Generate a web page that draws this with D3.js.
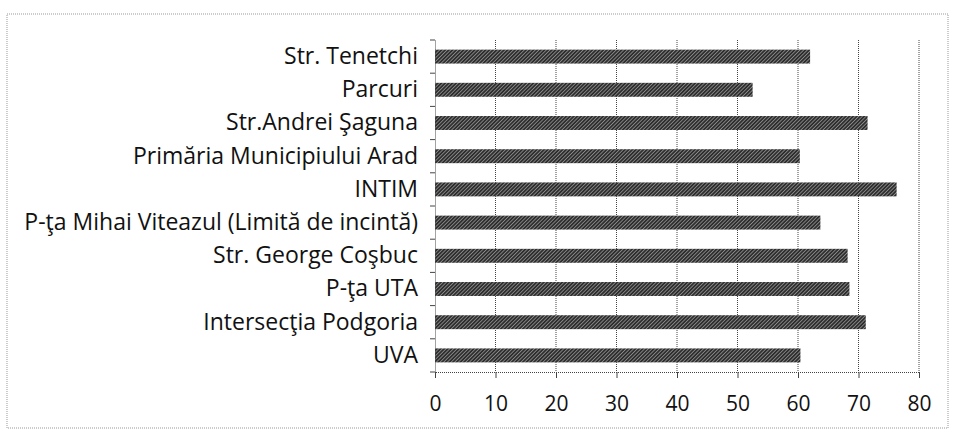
<!DOCTYPE html>
<html>
<head>
<meta charset="utf-8">
<script src="https://cdn.jsdelivr.net/npm/d3@7"></script>
<style>
  body { margin: 0; background: #fff; }
  svg { display: block; }
</style>
</head>
<body>
<svg id="chart" width="955" height="434"></svg>
<script>
const categories = [
  'Str. Tenetchi',
  'Parcuri ',
  'Str.Andrei Şaguna',
  'Primăria Municipiului Arad',
  'INTIM',
  'P-ţa Mihai Viteazul (Limită de incintă)',
  'Str. George Coşbuc',
  'P-ţa UTA',
  'Intersecţia Podgoria',
  'UVA'
];
const values = [62, 52.5, 71.5, 60.3, 76.3, 63.7, 68.2, 68.5, 71.2, 60.4];
const xTicks = [0, 10, 20, 30, 40, 50, 60, 70, 80];

const width = 955;
const height = 434;
const plotLeft = 435, plotRight = 919, plotTop = 40, plotBottom = 372;

const svg = d3.select('#chart');

const defs = svg.append('defs');
const pat = defs.append('pattern')
    .attr('id', 'hatch')
    .attr('patternUnits', 'userSpaceOnUse')
    .attr('width', 2.6)
    .attr('height', 2.6)
    .attr('patternTransform', 'rotate(45)');
pat.append('rect').attr('width', 2.6).attr('height', 2.6).attr('fill', '#2e2e2e');
pat.append('line').attr('x1', 0).attr('y1', 0).attr('x2', 0).attr('y2', 2.6)
    .attr('stroke', '#cfcfcf').attr('stroke-width', 1);

// outer frame
svg.append('rect')
    .attr('x', 7).attr('y', 14)
    .attr('width', 941).attr('height', 414)
    .attr('fill', 'none')
    .attr('stroke', '#999')
    .attr('stroke-width', 1)
    .attr('stroke-dasharray', '1,1');

const xScale = d3.scaleLinear().domain([0, 80]).range([plotLeft, plotRight]);
const yScale = d3.scaleBand().domain(categories).range([plotTop, plotBottom]).paddingInner(0.58).paddingOuter(0.29);

// gridlines
svg.append('g')
    .selectAll('line')
    .data(xTicks.slice(1))
    .join('line')
    .attr('x1', d => xScale(d)).attr('x2', d => xScale(d))
    .attr('y1', plotTop).attr('y2', plotBottom)
    .attr('stroke', '#444')
    .attr('stroke-width', 1)
    .attr('stroke-dasharray', '1,1');

// bars
svg.append('g')
    .selectAll('rect')
    .data(categories)
    .join('rect')
    .attr('x', xScale(0))
    .attr('y', d => yScale(d))
    .attr('width', (d, i) => xScale(values[i]) - xScale(0))
    .attr('height', yScale.bandwidth())
    .attr('fill', 'url(#hatch)');

// x axis
const xAxis = d3.axisBottom(xScale).tickValues(xTicks).tickSize(6).tickPadding(18);
const gx = svg.append('g')
    .attr('transform', `translate(0,${plotBottom})`)
    .call(xAxis);
gx.select('.domain').attr('stroke', '#444').attr('stroke-dasharray', '1,1');
gx.selectAll('.tick line').attr('stroke', '#444');
gx.selectAll('.tick text')
    .attr('fill', '#111')
    .style('font-family', '"Open Sans", sans-serif')
    .style('font-size', '21px');

// y axis
const yAxis = d3.axisLeft(yScale).tickSize(0).tickPadding(17);
const gy = svg.append('g')
    .attr('transform', `translate(${plotLeft},0)`)
    .call(yAxis);
gy.select('.domain').attr('stroke', '#444').attr('stroke-dasharray', '1,1');
gy.selectAll('.tick text')
    .attr('fill', '#111')
    .style('font-family', '"Open Sans", sans-serif')
    .style('font-size', '23px');

// category boundary ticks on the y axis
svg.append('g')
    .selectAll('line')
    .data(d3.range(categories.length + 1))
    .join('line')
    .attr('x1', plotLeft - 5).attr('x2', plotLeft)
    .attr('y1', i => plotTop + i * (plotBottom - plotTop) / categories.length)
    .attr('y2', i => plotTop + i * (plotBottom - plotTop) / categories.length)
    .attr('stroke', '#444');
</script>
</body>
</html>
